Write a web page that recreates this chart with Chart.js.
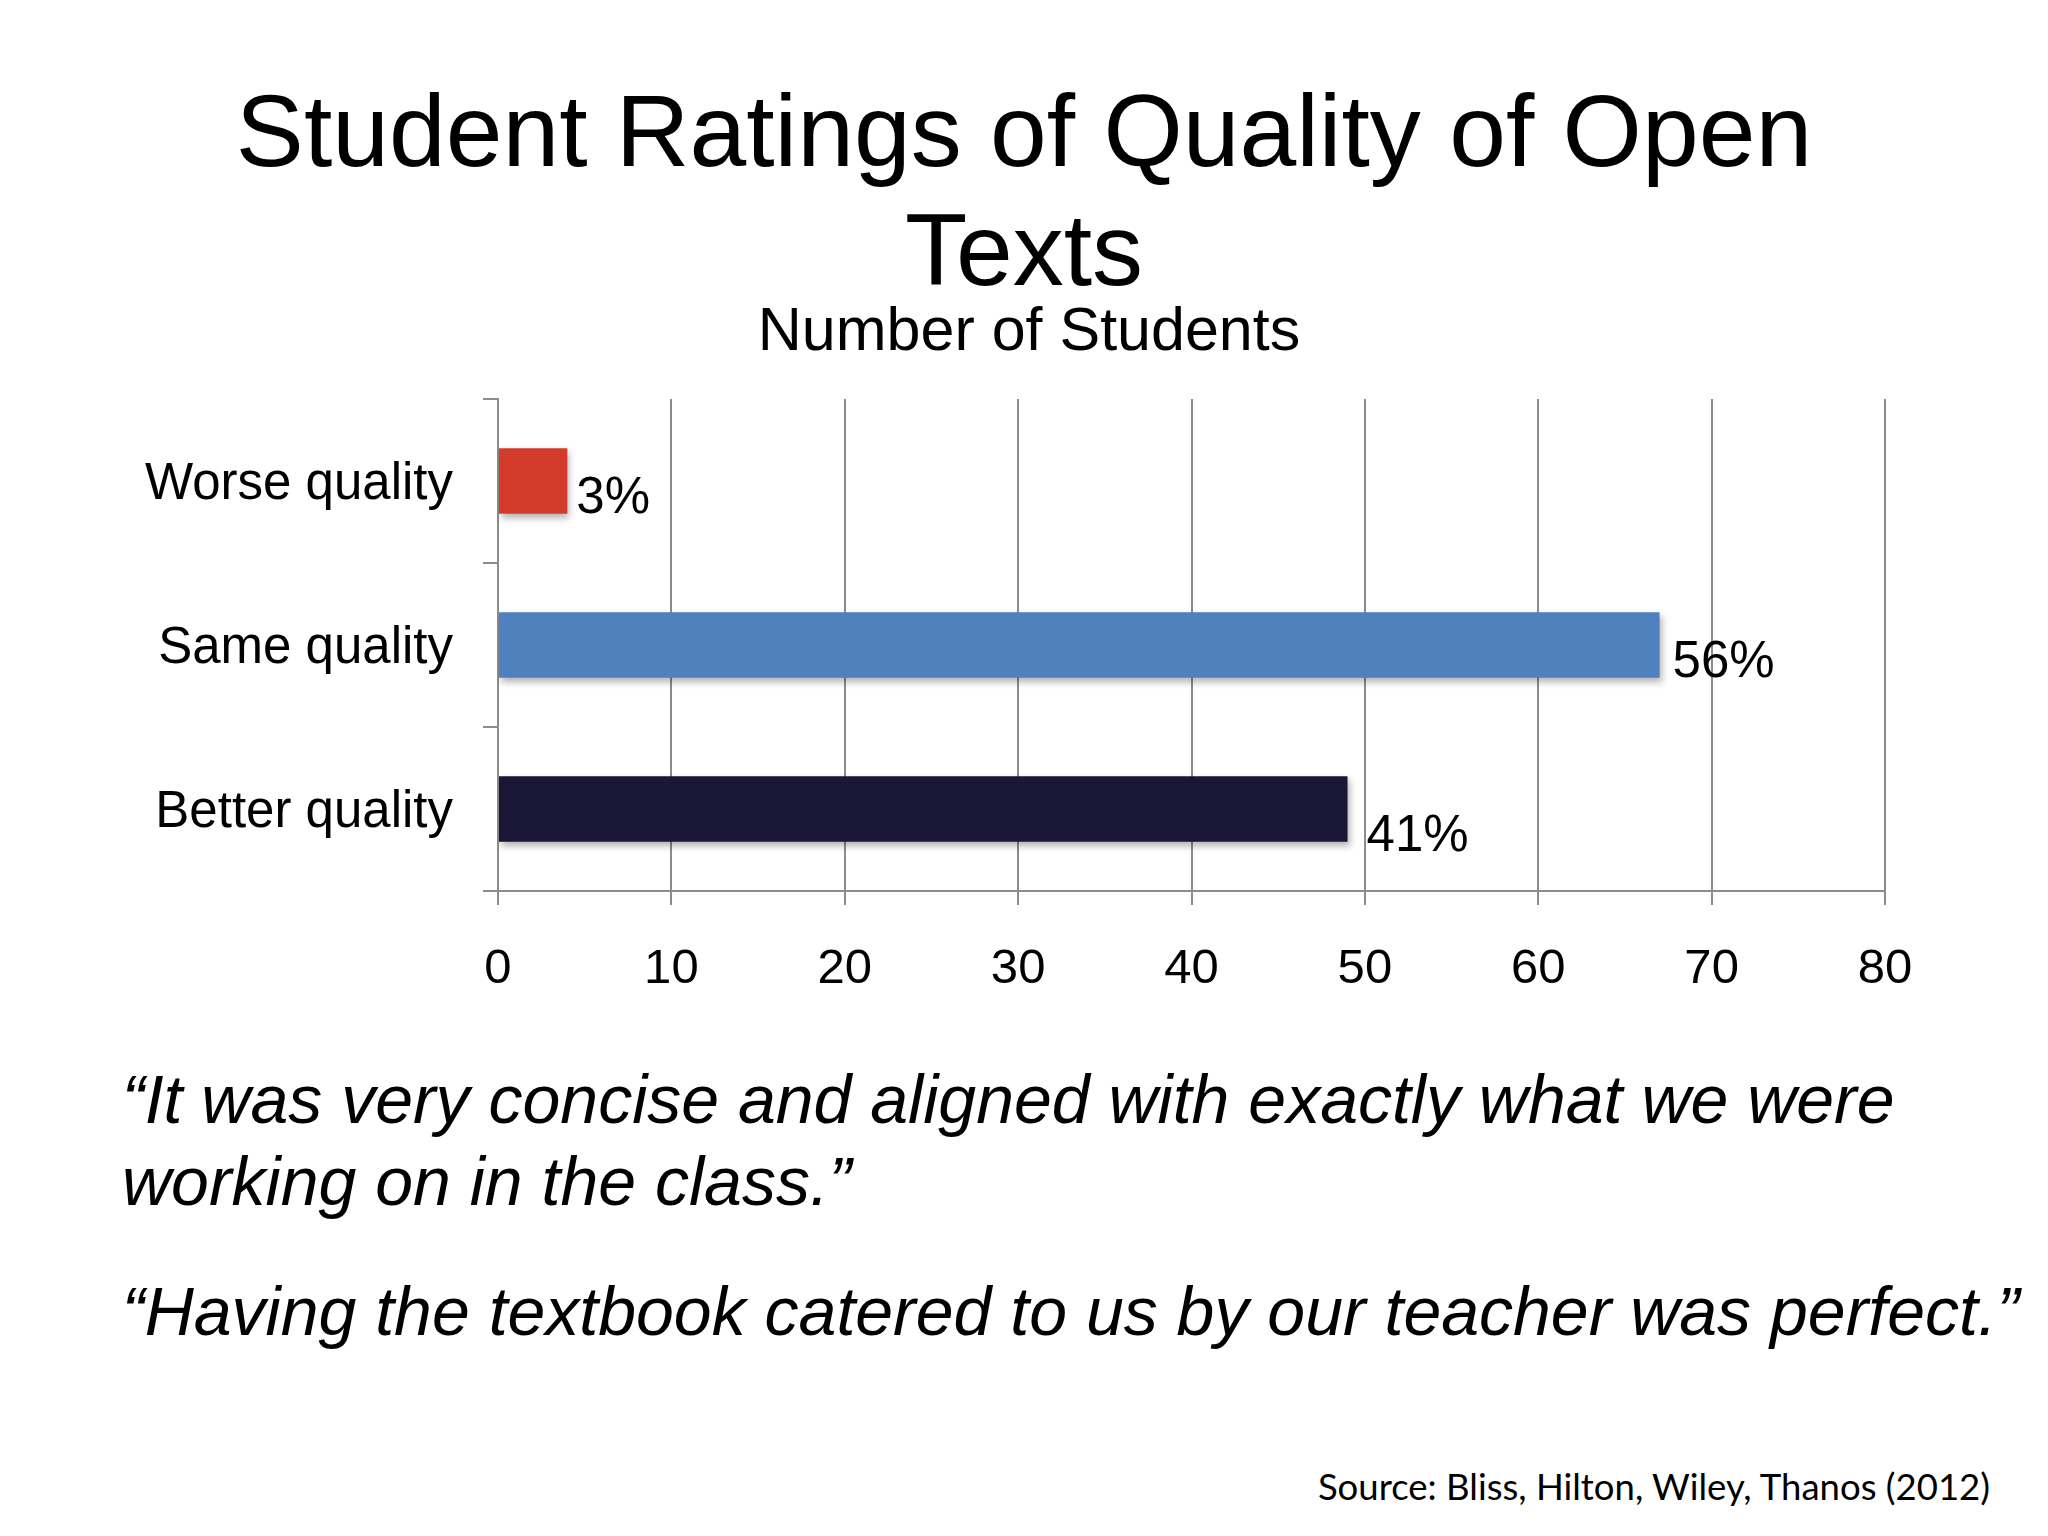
<!DOCTYPE html>
<html>
<head>
    <title>Student Ratings of Quality of Open Texts</title>
    <style>
        html, body { margin: 0; padding: 0; background: #fff; }
        body { width: 2048px; height: 1536px; position: relative; overflow: hidden;
               font-family: 'Liberation Sans', Arial, sans-serif; color: #000; }
        #title { position: absolute; left: 0; top: 72px; width: 2048px; text-align: center;
                 font-size: 102px; line-height: 119px; }
        #subtitle { position: absolute; left: 10px; top: 299px; width: 2038px; text-align: center;
                    font-size: 61px; line-height: 61px; }
        #chart-box { position: absolute; left: 0; top: 380px; width: 2048px; height: 660px; }
        .quote { position: absolute; left: 122px; font-style: italic; font-size: 68px;
                 line-height: 82px; white-space: nowrap; }
        #q1 { top: 1058px; }
        #q2 { top: 1270px; }
        #source { position: absolute; right: 58px; top: 1461px; font-family: Lato, 'Open Sans', sans-serif;
                  font-size: 36.5px; line-height: 50px; white-space: nowrap; }
    </style>
</head>
<body>
    <div id="title">Student Ratings of Quality of Open<br>Texts</div>
    <div id="subtitle">Number of Students</div>
    <div id="chart-box"><canvas id="ratingsChart" width="2048" height="660"></canvas></div>
    <div class="quote" id="q1">“It was very concise and aligned with exactly what we were<br>working on in the class.”</div>
    <div class="quote" id="q2">“Having the textbook catered to us by our teacher was perfect.”</div>
    <div id="source">Source: Bliss, Hilton, Wiley, Thanos (2012)</div>

    <script src="https://cdn.jsdelivr.net/npm/chart.js@4"></script>
    <script>
        const categories = ['Worse quality', 'Same quality', 'Better quality'];
        const studentCounts = [4, 67, 49];
        const barColors = ['#D33C2A', '#4F81BD', '#191636'];
        const xMin = 0;
        const xMax = 80;
        const xStep = 10;

        // percent labels come from the counts
        const total = studentCounts.reduce((a, b) => a + b, 0);
        const percentLabels = studentCounts.map(v => Math.round(v / total * 100) + '%');

        const axisGray = '#8c8c8c';

        // bar shadow + the percent labels next to each bar
        const barExtras = {
            id: 'barExtras',
            beforeDatasetsDraw(chart) {
                const ctx = chart.ctx;
                ctx.save();
                ctx.shadowColor = 'rgba(0, 0, 0, 0.3)';
                ctx.shadowBlur = 7;
                ctx.shadowOffsetX = 2;
                ctx.shadowOffsetY = 4;
            },
            afterDatasetsDraw(chart, args, opts) {
                const ctx = chart.ctx;
                ctx.restore();
                ctx.save();
                ctx.font = opts.font;
                ctx.fillStyle = '#000';
                ctx.textAlign = 'left';
                ctx.textBaseline = 'middle';
                chart.getDatasetMeta(0).data.forEach((bar, i) => {
                    const shift = opts.shift[i];
                    ctx.fillText(percentLabels[i], bar.x + shift[0], bar.y + shift[1]);
                });
                ctx.restore();
            }
        };

        Chart.defaults.font.family = "'Liberation Sans', Arial, sans-serif";

        const ctx = document.getElementById('ratingsChart').getContext('2d');
        const chart = new Chart(ctx, {
            type: 'bar',
            data: {
                labels: categories,
                datasets: [{
                    label: 'Number of Students',
                    data: studentCounts,
                    backgroundColor: barColors,
                    borderWidth: 0,
                    categoryPercentage: 1.0,
                    barPercentage: 0.4
                }]
            },
            options: {
                indexAxis: 'y',
                responsive: false,
                animation: false,
                devicePixelRatio: 1,
                layout: { padding: { top: 19, right: 163, left: 0, bottom: 0 } },
                plugins: {
                    legend: { display: false },
                    tooltip: { enabled: false },
                    barExtras: {
                        font: "51px 'Liberation Sans', Arial, sans-serif",
                        shift: [[9, 18], [13, 18], [19, 28]]
                    }
                },
                scales: {
                    x: {
                        min: xMin,
                        max: xMax,
                        ticks: { stepSize: xStep, color: '#000', font: { size: 49 }, padding: 35 },
                        grid: { color: axisGray, lineWidth: 2, tickLength: 14 },
                        border: { color: axisGray, width: 2 },
                        afterFit(scale) { scale.height = 149; }
                    },
                    y: {
                        ticks: { color: '#000', font: { size: 51 }, padding: 30, labelOffset: 4 },
                        grid: { drawOnChartArea: false, color: axisGray, lineWidth: 2, tickLength: 15, offset: true },
                        border: { color: axisGray, width: 2 },
                        afterFit(scale) {
                            scale.width = 498;
                            scale.paddingTop = 0;
                            scale.paddingBottom = 0;
                        }
                    }
                }
            },
            plugins: [barExtras]
        });
    </script>
</body>
</html>
